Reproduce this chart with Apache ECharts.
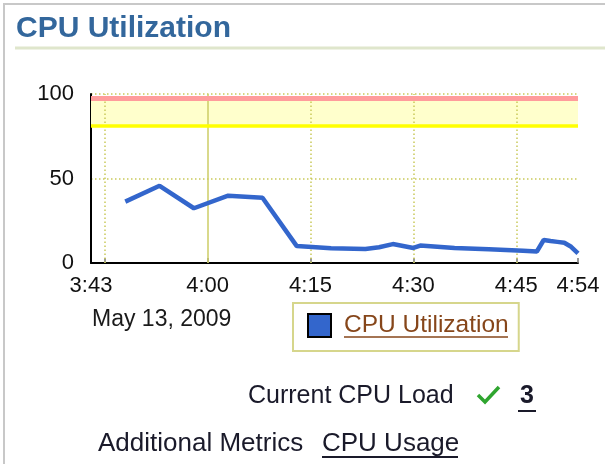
<!DOCTYPE html>
<html>
<head>
<meta charset="utf-8">
<script src="https://cdn.jsdelivr.net/npm/echarts@6/dist/echarts.min.js"></script>
<style>
html,body{margin:0;padding:0;background:#fff;}
#chart{width:605px;height:464px;}
</style>
</head>
<body>
<div id="chart"></div>
<script>
// ---- data ----
const axisLabelTimes = ['3:43', '4:00', '4:15', '4:30', '4:45', '4:54'];
const tickTimes = ['3:45', '4:00', '4:15', '4:30', '4:45', '4:54'];
const dottedGridTimes = ['3:45', '4:15', '4:30', '4:45'];
const hourGridTimes = ['4:00'];
const yTicks = [0, 50, 100];
const cpuTimes = ['3:48','3:53','3:58','4:03','4:08','4:13','4:18','4:23','4:25','4:27','4:30','4:31','4:36','4:41','4:46','4:48','4:49','4:50','4:51','4:52','4:53','4:54'];
const cpuValues = [36.3, 45.7, 32.4, 39.8, 38.6, 10.0, 8.7, 8.3, 9.3, 11.2, 8.9, 10.3, 8.9, 8.1, 7.3, 6.8, 13.6, 13.0, 12.5, 12.0, 9.6, 5.7];
const warningLevel = 81.5;
const criticalLevel = 97.5;
const dateLabel = 'May 13, 2009';
const seriesName = 'CPU Utilization';
const currentLoad = '3';

function toMin(t) { const p = t.split(':').map(Number); return p[0] * 60 + p[1]; }
function fmt(v) { const h = Math.floor(v / 60), m = v % 60; return h + ':' + (m < 10 ? '0' : '') + m; }

const FONT = "'Liberation Sans', Arial, sans-serif";
const chart = echarts.init(document.getElementById('chart'), null, { renderer: 'canvas' });

const xMin = toMin(axisLabelTimes[0]);
const xMax = toMin(axisLabelTimes[axisLabelTimes.length - 1]);
const gridColor = '#c9c95a';

const option = {
  animation: false,
  textStyle: { fontFamily: FONT },
  grid: { left: 91, right: 27, top: 94, bottom: 201 },
  legend: {
    left: 293, top: 303,
    data: [seriesName],
    icon: 'rect',
    itemWidth: 23, itemHeight: 23,
    padding: [10, 10, 13, 14],
    borderColor: '#d6d68c', borderWidth: 2,
    backgroundColor: '#fff',
    selectedMode: false,
    itemStyle: { color: '#3366cc', borderColor: '#000', borderWidth: 2 },
    textStyle: { color: '#86461a', fontSize: 24.5, fontFamily: FONT, padding: [0, 0, 0, 8] }
  },
  xAxis: {
    type: 'value', min: xMin, max: xMax,
    axisLine: { show: true, lineStyle: { color: '#000', width: 2 } },
    axisTick: { show: true, inside: true, length: 5, customValues: tickTimes.map(toMin), lineStyle: { color: '#777', width: 1.5 } },
    axisLabel: { customValues: axisLabelTimes.map(toMin), formatter: v => fmt(v), color: '#111', fontSize: 22, margin: 12, fontFamily: FONT, showMinLabel: true, showMaxLabel: true },
    splitLine: { show: false }
  },
  yAxis: {
    type: 'value', min: yTicks[0], max: yTicks[yTicks.length - 1], interval: yTicks[1] - yTicks[0],
    axisLine: { show: true, lineStyle: { color: '#000', width: 2 } },
    axisTick: { show: false },
    axisLabel: { color: '#111', fontSize: 22, margin: 17, fontFamily: FONT },
    splitLine: { show: true, lineStyle: { color: gridColor, width: 1.5, type: [1.5, 2.5] } }
  },
  series: [
    {
      name: 'band', type: 'line', data: [], silent: true, z: 1,
      markArea: { silent: true, itemStyle: { color: '#ffffcc' }, data: [[{ yAxis: warningLevel }, { yAxis: criticalLevel }]] }
    },
    {
      name: 'grid', type: 'line', data: [], silent: true, z: 2,
      markLine: {
        silent: true, symbol: 'none', label: { show: false },
        data: dottedGridTimes.map(t => ({ xAxis: toMin(t), lineStyle: { color: gridColor, width: 1.5, type: [1.5, 2.5] } }))
          .concat(hourGridTimes.map(t => ({ xAxis: toMin(t), lineStyle: { color: '#cccc66', width: 1.5, type: 'solid' } })))
      }
    },
    {
      name: 'thresholds', type: 'line', data: [], silent: true, z: 3,
      markLine: {
        silent: true, symbol: 'none', label: { show: false },
        data: [
          { yAxis: warningLevel, lineStyle: { color: '#ffff00', width: 3.5, type: 'solid' } },
          { yAxis: criticalLevel, lineStyle: { color: '#ff9c9c', width: 5, type: 'solid' } }
        ]
      }
    },
    {
      name: seriesName, type: 'line', z: 5,
      data: cpuTimes.map((t, i) => [toMin(t), cpuValues[i]]),
      showSymbol: false, symbol: 'none',
      lineStyle: { color: '#3366cc', width: 4.5 },
      itemStyle: { color: '#3366cc' }
    }
  ],
  graphic: [
    { type: 'rect', shape: { x: 4, y: 4, width: 700, height: 600 }, style: { fill: 'none', stroke: '#c8c8c8', lineWidth: 2 }, silent: true, z: 0 },
    { type: 'text', left: 16, top: 14, style: { text: seriesName, fill: '#33679c', font: "bold 30px " + FONT } },
    { type: 'line', shape: { x1: 15, y1: 48, x2: 605, y2: 48 }, style: { stroke: '#dfe6cc', lineWidth: 3 } },
    { type: 'text', x: 92, y: 320, style: { text: dateLabel, fill: '#1a1a1a', font: "23px " + FONT, verticalAlign: 'middle' } },
    { type: 'line', z: 20, shape: { x1: 344, y1: 337, x2: 508, y2: 337 }, style: { stroke: '#86461a', lineWidth: 1.5 } },
    { type: 'text', x: 248, y: 396, style: { text: 'Current CPU Load', fill: '#1a1a2a', font: "25px " + FONT, verticalAlign: 'middle' } },
    { type: 'polyline', shape: { points: [[478, 395], [485, 402], [499, 387]] }, style: { stroke: '#2fa52f', lineWidth: 3.5, fill: 'none' } },
    { type: 'text', x: 520, y: 396, style: { text: currentLoad, fill: '#1a1a2a', font: "bold 25px " + FONT, verticalAlign: 'middle' } },
    { type: 'line', shape: { x1: 518, y1: 411, x2: 536, y2: 411 }, style: { stroke: '#1a1a2a', lineWidth: 2 } },
    { type: 'text', x: 98, y: 444, style: { text: 'Additional Metrics', fill: '#1a1a2a', font: "26px " + FONT, verticalAlign: 'middle' } },
    { type: 'text', x: 322, y: 444, style: { text: 'CPU Usage', fill: '#1a1a2a', font: "26px " + FONT, verticalAlign: 'middle' } },
    { type: 'line', shape: { x1: 322, y1: 457, x2: 458, y2: 457 }, style: { stroke: '#1a1a2a', lineWidth: 2 } }
  ]
};
chart.setOption(option);
</script>
</body>
</html>
